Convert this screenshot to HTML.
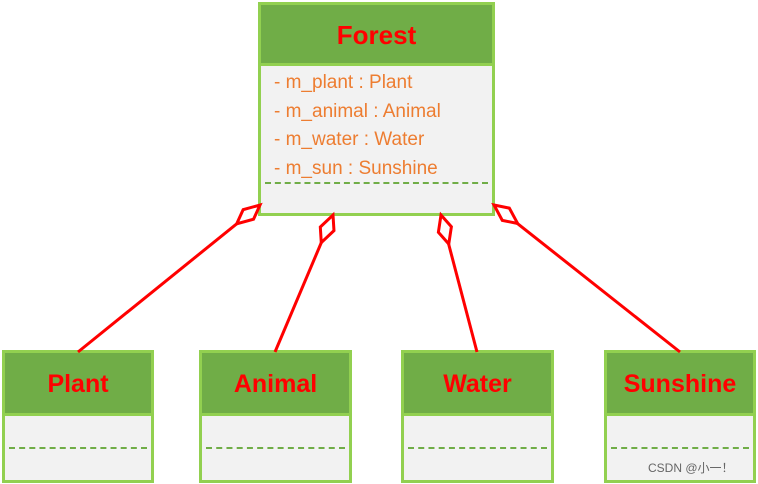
<!DOCTYPE html>
<html><head><meta charset="utf-8"><style>
body{margin:0;width:758px;height:484px;background:#fff;overflow:hidden;position:relative;font-family:"Liberation Sans",sans-serif}
.box{position:absolute;border:3px solid #92d050;background:#f2f2f2;box-sizing:border-box}
.hd{background:#70ad47;border-bottom:3px solid #92d050;color:#ff0000;font-weight:bold;text-align:center;box-sizing:border-box}
.dash{position:absolute;left:4px;right:4px;border-top:2px dashed #70ad47}
.attr{color:#ed7d31;font-size:19px;line-height:28.5px;padding-left:13px;padding-top:3px}
</style></head><body>
<div class="box" style="left:258px;top:2px;width:237px;height:214px">
 <div class="hd" style="height:61px;font-size:26px;line-height:60px">Forest</div>
 <div class="attr">- m_plant : Plant<br>- m_animal : Animal<br>- m_water : Water<br>- m_sun : Sunshine</div>
 <div class="dash" style="top:177px"></div>
</div>
<div class="box" style="left:2px;top:350px;width:152px;height:133px"><div class="hd" style="height:63px;font-size:25px;line-height:62px">Plant</div><div class="dash" style="top:94px"></div></div>
<div class="box" style="left:199px;top:350px;width:153px;height:133px"><div class="hd" style="height:63px;font-size:25px;line-height:62px">Animal</div><div class="dash" style="top:94px"></div></div>
<div class="box" style="left:401px;top:350px;width:153px;height:133px"><div class="hd" style="height:63px;font-size:25px;line-height:62px">Water</div><div class="dash" style="top:94px"></div></div>
<div class="box" style="left:604px;top:350px;width:152px;height:133px"><div class="hd" style="height:63px;font-size:25px;line-height:62px">Sunshine</div><div class="dash" style="top:94px"></div></div>
<svg width="758" height="484" style="position:absolute;left:0;top:0">
<g stroke="#ff0000" stroke-width="3" fill="#fff">
<line x1="78" y1="352" x2="260" y2="205"/>
<line x1="275" y1="352" x2="333" y2="215"/>
<line x1="477" y1="352" x2="441" y2="215"/>
<line x1="680" y1="352" x2="494" y2="205"/>
<g transform="translate(260,205) rotate(141)"><polygon points="0,0 14,-7 30,0 16,7"/></g>
<g transform="translate(333,215) rotate(113)"><polygon points="0,0 14,-7 30,0 16,7"/></g>
<g transform="translate(441,215) rotate(75)"><polygon points="0,0 14,-7 30,0 16,7"/></g>
<g transform="translate(494,205) rotate(38)"><polygon points="0,0 14,-7 30,0 16,7"/></g>
</g>
<text x="648" y="472" font-size="12" fill="#666" font-family="Liberation Sans, Noto Sans CJK SC, sans-serif">CSDN @小一！</text>
</svg>
</body></html>
